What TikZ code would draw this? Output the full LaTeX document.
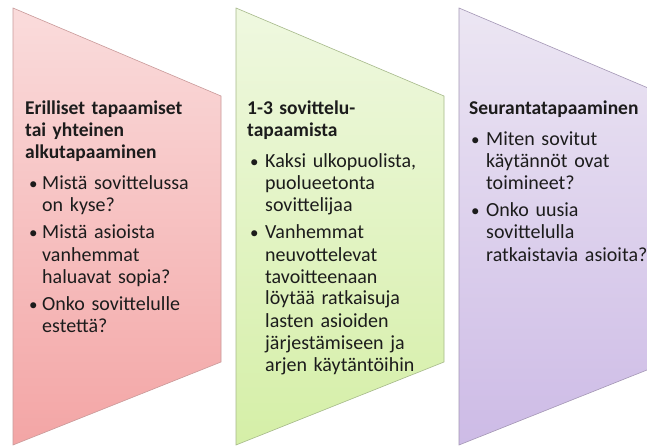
\documentclass[tikz,border=0pt]{standalone}
\usepackage{fontspec}
\setmainfont{Carlito}
\definecolor{pinkT}{HTML}{FADCDC}
\definecolor{pinkB}{HTML}{F3A5A5}
\definecolor{pinkE}{HTML}{C99A9A}
\definecolor{greenT}{HTML}{EFF8E0}
\definecolor{greenB}{HTML}{D5EFA7}
\definecolor{greenE}{HTML}{A6B98A}
\definecolor{purpT}{HTML}{ECE6F3}
\definecolor{purpB}{HTML}{CDBBE6}
\definecolor{purpE}{HTML}{A497B5}
\definecolor{ink}{HTML}{1C1C1C}
\begin{document}
\begin{tikzpicture}[x=1pt,y=-1pt,
  txt/.style={anchor=base west, inner sep=0pt, text width=220pt, align=left, text=ink,
    font=\fontsize{20}{22}\selectfont},
  ttl/.style={txt, font=\bfseries\fontsize{19.5}{22}\selectfont},
  dot/.style={anchor=base west, inner sep=0pt, text=ink, font=\fontsize{17}{22}\selectfont},
  panel/.style={draw=#1, line width=0.6pt}]
\useasboundingbox (0,0) rectangle (647,446);
\clip (0,0) rectangle (647,446);
\fill[white] (0,0) rectangle (647,446);
% panels
\shade[top color=pinkT, bottom color=pinkB] (13,8) -- (221,96) -- (221,362) -- (13,445) -- cycle;
\draw[panel=pinkE] (13,8) -- (221,96) -- (221,362) -- (13,445) -- cycle;
\shade[top color=greenT, bottom color=greenB] (236,8) -- (444,96) -- (444,362) -- (236,445) -- cycle;
\draw[panel=greenE] (236,8) -- (444,96) -- (444,362) -- (236,445) -- cycle;
\shade[top color=purpT, bottom color=purpB] (459,8) -- (667,96) -- (667,362) -- (459,445) -- cycle;
\draw[panel=purpE] (459,8) -- (667,96) -- (667,362) -- (459,445) -- cycle;
% column 1
\node[ttl] (t1) at (25,115) {Erilliset tapaamiset\\tai yhteinen\\alkutapaaminen};
\node[dot] (d11) at (29,190) {•};
\node[txt] (b11) at (42,190) {Mistä sovittelussa\\on kyse?};
\node[dot] (d12) at (29,239) {•};
\node[txt] (b12) at (42,239) {Mistä asioista\\vanhemmat\\haluavat sopia?};
\node[dot] (d13) at (29,310) {•};
\node[txt] (b13) at (42,310) {Onko sovittelulle\\estettä?};
% column 2
\node[ttl] (t2) at (247,115) {1-3 sovittelu-\\tapaamista};
\node[dot] (d21) at (250,168) {•};
\node[txt] (b21) at (265,168) {Kaksi ulkopuolista,\\puolueetonta\\sovittelijaa};
\node[dot] (d22) at (250,239) {•};
\node[txt] (b22) at (265,239) {Vanhemmat\\neuvottelevat\\tavoitteenaan\\löytää ratkaisuja\\lasten asioiden\\järjestämiseen ja\\arjen käytäntöihin};
% column 3
\node[ttl] (t3) at (469,115) {Seurantatapaaminen};
\node[dot] (d31) at (471,146) {•};
\node[txt] (b31) at (486,146) {Miten sovitut\\käytännöt ovat\\toimineet?};
\node[dot] (d32) at (471,217) {•};
\node[txt] (b32) at (486,217) {Onko uusia\\sovittelulla\\ratkaistavia asioita?};
\end{tikzpicture}
\end{document}
